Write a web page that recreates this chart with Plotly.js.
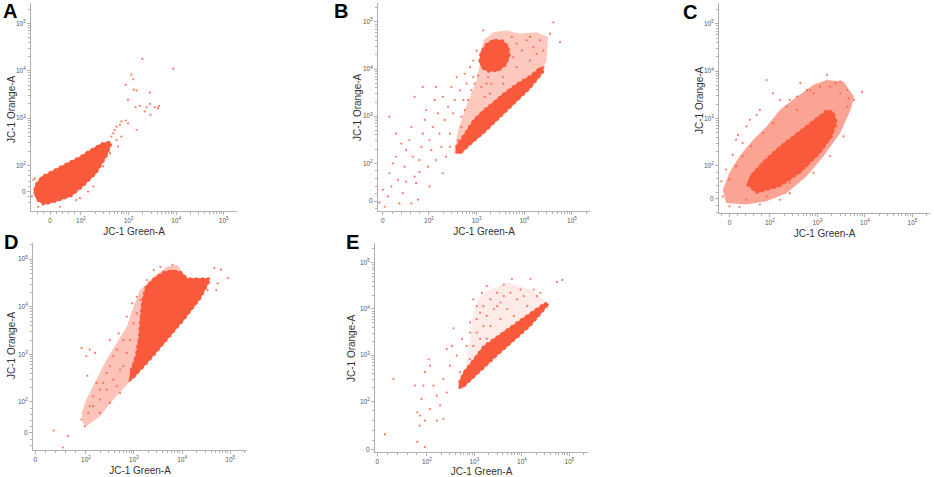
<!DOCTYPE html>
<html>
<head>
<meta charset="utf-8">
<script src="https://cdn.plot.ly/plotly-3.0.1.min.js"></script>
<style>html,body{margin:0;padding:0;background:#fff;}#chart{width:934px;height:477px;}</style>
</head>
<body>
<div id="chart"></div>
<script>
// Values are in decades of fluorescence (log10 of signal).
const tickLabels = ['0', '10<sup>2</sup>', '10<sup>3</sup>', '10<sup>4</sup>', '10<sup>5</sup>'];
const tickDecades = [2, 3, 4, 5];
const panelLetters = ['A', 'B', 'C', 'D', 'E'];
const xTitle = 'JC-1 Green-A';
const yTitle = 'JC-1 Orange-A';
// position of the "0" label on each biexponential axis (in decade units)
const zeroX = [1.35, 1.03, 1.15, 0.95, 0.96];
const zeroY = [1.45, 1.20, 1.30, 1.35, 0.95];

// ---- Panel A
const aDenseX = [1.07,1.21,1.49,1.80,2.05,2.33,2.54,2.64,2.61,2.43,2.19,1.98,1.70,1.42,1.17,1.035,1.00];
const aDenseY = [1.27,1.17,1.24,1.35,1.56,1.84,2.19,2.44,2.51,2.47,2.33,2.19,2.05,1.91,1.77,1.59,1.42];
const aDotsX = [3.29,3.94,3.06,3.10,2.94,3.11,3.17,3.45,2.99,3.15,3.24,3.38,3.55,3.64,3.62,3.45,3.34,3.46,3.17,2.99,2.94,2.85,2.82,2.75,2.71,2.68,2.64,2.85,2.75,2.78,2.61,2.57,1.03,1.00,1.10,1.56,1.98,2.26,2.47,2.54,2.40,1.35,1.21,0.97,2.15,1.90];
const aDotsY = [4.25,4.04,3.92,3.82,3.70,3.60,3.58,3.54,3.39,3.23,3.26,3.23,3.23,3.26,3.21,3.30,3.14,3.07,2.75,2.89,2.95,2.93,2.86,2.82,2.75,2.68,2.61,2.61,2.54,2.40,2.26,2.33,1.73,1.70,1.13,1.13,1.31,1.56,1.98,2.40,2.33,1.84,1.70,1.35,1.45,1.27];

// ---- Panel B
const bMidX = [2.52,2.61,2.75,2.89,3.00,3.07,3.14,3.35,3.63,3.91,4.26,4.50,4.47,4.40,4.12,3.77,3.42,3.00,2.68];
const bMidY = [2.21,2.70,3.13,3.48,3.76,4.11,4.61,4.78,4.82,4.75,4.78,4.68,4.18,4.04,3.62,3.27,2.92,2.52,2.21];
const bDenseX = [2.56,2.66,2.86,3.14,3.42,3.77,4.12,4.40,4.41,4.33,4.12,3.84,3.56,3.35,3.14,2.93,2.79,2.65,2.56];
const bDenseY = [2.23,2.20,2.39,2.63,2.90,3.23,3.58,3.93,4.04,4.04,3.86,3.69,3.48,3.30,3.13,2.92,2.70,2.49,2.35];
const bClusterX = [3.05,3.08,3.20,3.36,3.55,3.67,3.70,3.62,3.46,3.25,3.11];
const bClusterY = [4.15,4.36,4.54,4.63,4.61,4.48,4.29,4.08,3.96,3.94,4.01];
const bDotsX = [0.96,1.07,1.14,1.21,1.17,1.24,1.31,1.35,1.38,1.45,1.49,1.52,1.59,1.63,1.66,1.70,1.73,1.77,1.80,1.84,1.87,1.91,1.94,1.98,2.01,2.05,2.08,2.12,2.15,2.19,2.22,2.26,2.29,2.33,2.36,2.40,2.44,2.47,2.51,2.54,2.58,2.65,2.72,2.75,2.79,2.86,2.93,3.00,2.68,2.44,2.29,2.01,1.80,1.52,1.42,1.31,1.03,1.70,2.15,1.87,2.93,3.21,3.28,3.56,3.84,4.12,4.26,4.54,4.75,4.61,4.12,3.14,1.17,1.63,
  2.61,2.68,2.75,2.82,2.89,2.96,3.03,3.10,3.17,3.24,3.31,3.74,3.84,3.95,4.05,4.19,4.33,4.40,3.77,3.56];
const bDotsY = [1.17,1.08,1.30,1.51,1.79,2.00,2.14,1.65,1.15,1.37,1.93,2.28,2.49,2.77,2.14,1.72,1.58,1.23,2.07,2.35,2.63,2.92,3.13,1.93,2.49,2.28,2.77,3.34,2.07,3.06,2.63,2.35,3.41,2.92,2.14,3.20,2.63,3.62,3.06,3.34,3.83,3.55,3.34,3.90,3.69,4.04,4.18,4.39,2.99,2.35,1.79,1.51,1.82,1.61,2.42,2.63,1.44,3.41,3.62,3.62,3.83,3.69,3.48,3.83,4.04,4.18,4.32,4.75,4.57,4.99,4.68,4.82,2.99,1.15,
  2.49,2.77,3.13,3.34,3.55,3.69,3.86,3.62,3.41,3.83,3.69,4.68,4.54,4.39,4.61,4.46,4.61,4.39,4.25,3.69];

// ---- Panel C
const cMidX = [1.01,1.08,1.51,1.93,2.35,2.78,3.13,3.48,3.70,3.77,3.55,3.20,2.92,2.57,2.21,1.93,1.65,1.36,1.15];
const cMidY = [1.49,1.21,1.18,1.25,1.42,1.78,2.20,2.69,3.18,3.46,3.78,3.81,3.71,3.46,3.18,2.83,2.55,2.20,1.85];
const cDenseX = [1.51,1.72,2.21,2.64,3.06,3.31,3.41,3.34,3.20,2.92,2.57,2.21,1.86,1.58];
const cDenseY = [1.60,1.42,1.56,1.85,2.27,2.62,2.93,3.14,3.18,2.97,2.69,2.41,2.09,1.78];
const cDotsX = [1.93,2.64,3.20,3.48,3.94,3.77,3.66,2.78,2.42,1.72,1.51,1.29,1.33,1.22,1.08,0.98,1.01,1.15,1.36,1.79,2.21,2.42,2.92,3.27,3.55,2.07,2.21,1.79,1.58,1.43,3.06,3.38,3.63,2.92,2.57,
  1.15,1.29,1.43,1.61,1.86,2.07,2.35,2.57,2.85,3.27,3.48,3.63,3.41,3.13,2.78,2.42,1.93,1.51];
const cDotsY = [3.81,3.75,3.92,3.78,3.56,3.39,3.42,3.60,3.39,3.07,2.83,2.55,2.65,2.23,1.92,1.67,1.35,1.14,1.13,1.18,1.28,1.42,1.85,2.20,2.62,3.53,3.39,3.18,2.97,2.48,3.67,3.74,3.60,3.53,3.18,
  1.71,1.99,2.20,2.41,2.69,2.90,3.25,3.46,3.60,3.67,3.53,3.25,2.83,2.41,1.99,1.64,1.35,1.28];

// ---- Panel D
const dMidX = [1.94,2.01,2.29,2.57,2.89,2.99,3.69,4.39,4.57,4.11,3.90,3.69,3.41,3.13,2.99,2.85,2.64,2.43,2.22,2.01,1.91];
const dMidY = [1.56,1.49,1.70,2.05,2.40,2.50,3.30,4.18,4.60,4.60,4.88,4.84,4.63,4.35,4.00,3.58,3.24,2.89,2.47,2.05,1.77];
const dDenseX = [2.89,2.99,3.34,3.69,4.04,4.39,4.57,4.57,4.11,3.97,3.80,3.62,3.41,3.24,3.17,3.13,3.10,3.03,2.92];
const dDenseY = [2.43,2.50,2.89,3.30,3.72,4.18,4.53,4.60,4.60,4.74,4.77,4.74,4.60,4.42,4.14,3.79,3.37,2.96,2.64];
const dDotsX = [1.33,1.63,1.52,1.91,2.01,2.08,2.19,2.03,1.91,1.98,2.05,2.15,2.29,2.43,2.57,2.50,2.68,2.85,2.96,3.06,3.80,4.67,4.81,4.95,4.53,4.71,4.74,2.15,2.36,2.64,2.78,2.29,2.50,2.71,
  2.29,2.43,2.57,2.71,2.85,2.92,2.99,3.06,3.13,3.27,3.41,3.55,2.78,2.64,2.50,2.22,2.08];
const dDotsY = [1.40,1.28,1.04,3.13,2.96,3.10,3.03,2.55,1.63,1.49,1.77,1.91,2.26,2.61,2.96,3.30,3.44,3.79,4.07,4.21,4.88,4.81,4.78,4.60,4.35,4.35,4.49,2.12,2.40,2.33,2.75,1.77,1.98,2.19,
  2.05,2.26,2.47,2.68,3.03,3.30,3.65,3.86,4.14,4.56,4.77,4.84,3.30,3.10,2.75,2.40,1.91];

// ---- Panel E
const eMidX = [2.91,2.98,3.12,3.41,3.69,3.90,4.18,4.46,4.49,4.18,3.48,3.12,2.91,2.77];
const eMidY = [3.35,3.92,4.28,4.46,4.57,4.50,4.42,4.21,4.10,3.85,3.35,2.99,2.70,2.48];
const eDenseX = [2.67,2.77,3.48,4.18,4.57,4.49,4.18,3.83,3.48,3.19,2.98,2.77,2.67];
const eDenseY = [2.28,2.30,2.99,3.63,4.10,4.14,3.92,3.67,3.42,3.20,2.91,2.63,2.41];
const eDotsX = [1.12,1.30,1.80,1.85,1.86,1.89,1.93,1.96,2.04,2.07,2.14,2.21,2.28,2.35,2.42,2.49,2.53,2.56,2.63,2.70,2.74,2.84,2.91,3.05,2.98,3.16,3.26,3.62,3.79,4.18,4.74,4.85,1.96,2.07,2.35,2.21,2.42,2.91,3.48,4.04,4.25,3.19,1.75,1.80,1.96,
  3.05,3.12,3.19,3.26,3.34,3.41,3.48,3.55,3.62,3.69,3.76,3.90,3.97,4.11,4.32,4.39,3.05,3.12,2.98,3.26,3.34,3.55,3.83,2.91,2.84];
const eDotsY = [1.28,2.48,1.12,1.47,1.69,2.05,2.34,2.63,2.91,2.77,2.34,2.12,1.91,2.48,2.19,2.77,3.20,3.58,2.99,2.63,3.35,3.20,3.71,4.06,4.21,4.35,4.50,4.53,4.65,4.65,4.58,4.63,1.58,1.83,1.62,1.58,3.13,3.49,4.06,4.28,4.42,3.63,2.34,1.76,1.01,
  3.78,3.92,4.06,3.85,4.21,4.00,4.35,4.14,4.28,4.00,4.35,4.21,4.42,4.06,4.28,4.35,3.49,3.35,3.20,3.35,3.63,3.78,3.85,2.91,2.70];

const dotColor = '#F95A3C';
const midColors = ['', 'rgba(249,90,60,0.33)', 'rgba(249,90,60,0.55)', 'rgba(249,90,60,0.36)', 'rgba(249,90,60,0.13)'];

const panels = [
  {dots:[aDotsX,aDotsY], polys:[[aDenseX,aDenseY,dotColor]],
   dom:[[31,237],[3,211]], xr:[0.95,5.28], yr:[1.04,5.43], letter:[1,11], ytitle:[11,109]},
  {dots:[bDotsX,bDotsY], polys:[[bMidX,bMidY,midColors[1]],[bDenseX,bDenseY,dotColor],[bClusterX,bClusterY,dotColor]],
   dom:[[378,590],[3,211]], xr:[0.93,5.38], yr:[0.99,5.40], letter:[332,11], ytitle:[357,107]},
  {dots:[cDotsX,cDotsY], polys:[[cMidX,cMidY,midColors[2]],[cDenseX,cDenseY,dotColor]],
   dom:[[719,930],[3,213]], xr:[0.93,5.37], yr:[1.00,5.44], letter:[681,12], ytitle:[699,100]},
  {dots:[dDotsX,dDotsY], polys:[[dMidX,dMidY,midColors[3]],[dDenseX,dDenseY,dotColor]],
   dom:[[33,247],[243,450]], xr:[0.90,5.35], yr:[0.99,5.34], letter:[2,242], ytitle:[11,345]},
  {dots:[eDotsX,eDotsY], polys:[[eMidX,eMidY,midColors[4]],[eDenseX,eDenseY,dotColor]],
   dom:[[375,588],[243,452]], xr:[0.91,5.39], yr:[0.90,5.43], letter:[344,242], ytitle:[351,348]}
];

const W = 934, H = 477;
function minorVals(zero, range) {
  const v = [];
  const step = (2 - zero) / 5;
  for (let k = -2; k <= 4; k++) { if (k !== 0) v.push(zero + k * step); }
  for (let d = 2; d <= 5; d++) for (let m = 2; m <= 9; m++) v.push(d + Math.log10(m));
  return v.filter(t => t > range[0] && t < range[1]);
}

const traces = [];
const layout = {
  width: W, height: H, margin: {l:0, r:0, t:0, b:0},
  paper_bgcolor: '#fff', plot_bgcolor: '#fff', showlegend: false,
  font: {family: 'Liberation Sans, Arial, sans-serif', color: '#333'},
  annotations: []
};

panels.forEach((p, i) => {
  const n = i === 0 ? '' : String(i + 1);
  const xa = 'x' + n, ya = 'y' + n;
  p.polys.forEach(pl => {
    const solid = pl[2] === dotColor;
    traces.push({type:'scatter', mode:'lines', x: pl[0], y: pl[1], xaxis: xa, yaxis: ya,
      fill:'toself', fillcolor: pl[2],
      line: solid ? {width:1.5, color: dotColor, dash:'dot'} : {width:0, color: pl[2]},
      hoverinfo:'skip'});
  });
  traces.push({type:'scatter', mode:'markers', x: p.dots[0], y: p.dots[1], xaxis: xa, yaxis: ya,
    marker:{size:2.2, color: dotColor, opacity:0.8}, hoverinfo:'skip'});

  const common = {
    showline: true, linecolor: '#b0b0b0', linewidth: 1, showgrid: false, zeroline: false,
    ticks: 'outside', ticklen: 3, tickcolor: '#b0b0b0', tickwidth: 1,
    tickfont: {size: 6.5, color: '#555', family: 'Liberation Sans, Arial, sans-serif'},
    tickmode: 'array', ticktext: tickLabels, fixedrange: true
  };
  layout['xaxis' + n] = Object.assign({}, common, {
    domain: [p.dom[0][0] / W, p.dom[0][1] / W], range: p.xr, anchor: ya,
    tickvals: [zeroX[i]].concat(tickDecades),
    minor: {tickmode:'array', tickvals: minorVals(zeroX[i], p.xr), ticks:'outside', ticklen:2, tickcolor:'#b0b0b0'},
    title: {text: xTitle, font: {size: 10, color: '#333'}, standoff: 5}
  });
  layout['yaxis' + n] = Object.assign({}, common, {
    domain: [(H - p.dom[1][1]) / H, (H - p.dom[1][0]) / H], range: p.yr, anchor: xa,
    tickvals: [zeroY[i]].concat(tickDecades), tickangle: 0,
    minor: {tickmode:'array', tickvals: minorVals(zeroY[i], p.yr), ticks:'outside', ticklen:2, tickcolor:'#b0b0b0'}
  });
  layout.annotations.push({text: yTitle, xref:'paper', yref:'paper', textangle: -90,
    x: p.ytitle[0] / W, y: (H - p.ytitle[1]) / H, xanchor:'center', yanchor:'middle', showarrow:false,
    font:{size: 10, color:'#333', family:'Liberation Sans, Arial, sans-serif'}});
  layout.annotations.push({text: '<b>' + panelLetters[i] + '</b>', xref:'paper', yref:'paper',
    x: p.letter[0] / W, y: (H - p.letter[1]) / H, xanchor:'left', yanchor:'middle', showarrow:false,
    font:{size: 20, color:'#000', family:'Liberation Sans, Arial, sans-serif'}});
});

Plotly.newPlot('chart', traces, layout, {displayModeBar: false, staticPlot: true});
</script>
</body>
</html>
